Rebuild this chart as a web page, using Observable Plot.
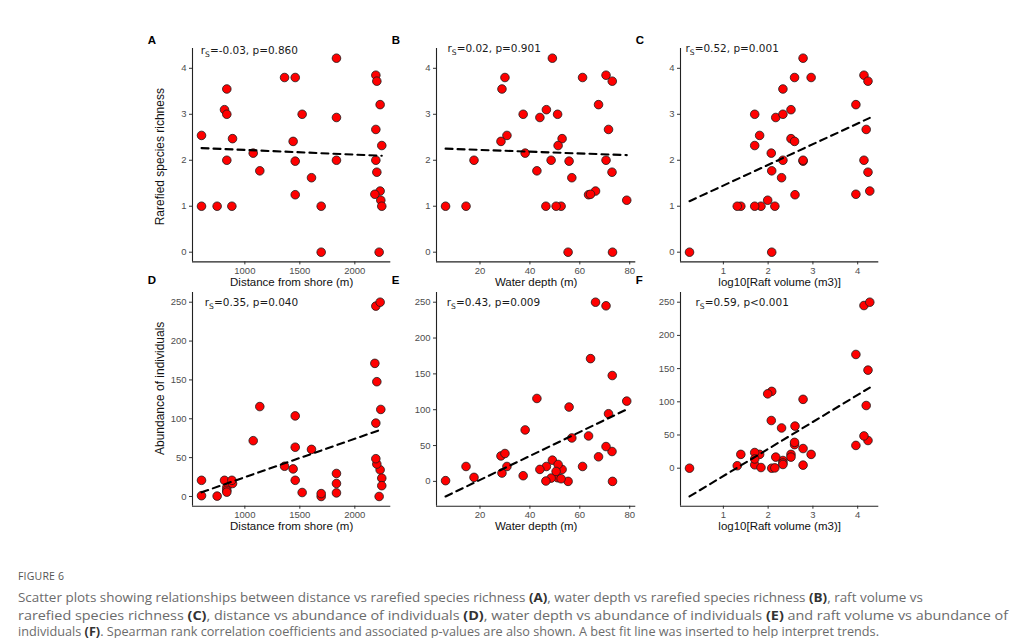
<!DOCTYPE html>
<html>
<head>
<meta charset="utf-8">
<script src="https://cdn.jsdelivr.net/npm/d3@7"></script>
<script src="https://cdn.jsdelivr.net/npm/@observablehq/plot@0.6"></script>
<style>
  html, body { margin: 0; padding: 0; background: #fff; }
  #fig { position: relative; width: 1023px; height: 638px; overflow: hidden; font-family: "Liberation Sans", Arial, sans-serif; }
  #fig svg { position: absolute; overflow: visible; }
  .cap { position: absolute; left: 18px; white-space: nowrap; color: #6b6b6b; font-family: "Open Sans", "Noto Sans", sans-serif; transform-origin: 0 50%; }
  .cap b { color: #333; font-weight: 700; }
  #figno { font-size: 10.5px; color: #555; letter-spacing: 0.2px; }
  .line { font-size: 13px; line-height: 14px; }
</style>
</head>
<body>
<div id="fig"></div>
<script>
// One row per raft sample
const distance  = [606, 836, 815, 888, 1076, 1136, 1439, 1458, 1606, 1833, 1833, 2191, 2200, 2230, 2191, 2245, 2200, 2230, 2236, 1458, 2182, 1361, 1458, 836, 1521, 836, 1833, 2191, 1694, 2221, 606, 748, 882, 1694, 2245];
const depth     = [30.8, 28.8, 46.6, 52.9, 38.1, 42.8, 28.4, 55.7, 56.8, 49.0, 44.0, 70.5, 73.0, 67.5, 71.5, 51.3, 72.9, 66.3, 78.8, 63.5, 64.3, 30.0, 61.1, 37.3, 51.1, 17.6, 48.5, 70.5, 55.3, 73.1, 6.2, 46.4, 14.4, 52.5, 50.5];
const logVolume = [1.81, 2.33, 2.51, 2.51, 2.07, 2.08, 2.59, 2.78, 2.30, 2.78, 2.17, 4.14, 4.23, 3.96, 4.19, 1.70, 4.23, 4.27, 1.99, 2.60, 3.96, 2.59, 2.96, 2.33, 1.70, 2.33, 2.78, 4.14, 0.244, 2.08, 1.84, 2.15, 1.39, 1.31, 1.70];
const richness  = [2.54, 3.55, 3.10, 2.47, 2.155, 1.77, 2.41, 1.98, 1.62, 4.22, 2.93, 3.85, 3.72, 3.21, 2.67, 2.32, 1.74, 1.33, 1.13, 1.25, 1.26, 3.80, 3.80, 3.0, 3.0, 2.0, 2.0, 2.0, 0, 0, 1, 1, 1, 1, 1];
const abundance = [20.8, 11.6, 20.8, 16.7, 71.8, 115.7, 35.5, 103.7, 60.6, 29.6, 16.7, 245, 147.7, 34.3, 94.4, 23.6, 41.7, 250, 112, 63.4, 171.3, 38.9, 20.8, 7.9, 5.1, 5.6, 4.6, 48.6, 0, 0, 1, 0.5, 20.8, 3.7, 13.9];

// Spearman statistics shown in each panel
const panelLetters = ["A", "B", "C", "D", "E", "F"];
const rsValues = ["-0.03", "0.02", "0.52", "0.35", "0.43", "0.59"];
const pValues = ["p=0.860", "p=0.901", "p=0.001", "p=0.040", "p=0.009", "p<0.001"];

// Axis ticks and titles
const xTickSets = [[1000, 1500, 2000], [20, 40, 60, 80], [1, 2, 3, 4]];
const richnessTicks = [0, 1, 2, 3, 4];
const abundanceTicks = [0, 50, 100, 150, 200, 250];
const xTitles = ["Distance from shore (m)", "Water depth (m)", "log10[Raft volume (m3)]"];
const yTitles = ["Rarefied species richness", "Abundance of individuals"];

// Layout of the 3 x 2 grid (frame positions in page pixels)
const colLeft = [191.7, 435.7, 680];
const colWidth = [198.3, 199.3, 198.3];
const rowTop = [48.3, 291.7];
const rowHeight = [213.4, 213.7];
const ML = 60, MR = 12, MT = 24, MB = 42;
const notePos = [[8.3, 5.7], [11, 3.8], [5, 3.8], [12.3, 13.3], [10.3, 13.6], [15, 13.8]];
const letterDy = [-4.3, -8.4];

const xSeries = [distance, depth, logVolume];
const ySeries = [richness, abundance];

function ols(xs, ys) {
  const mx = d3.mean(xs), my = d3.mean(ys);
  const b = d3.sum(xs, (x, i) => (x - mx) * (ys[i] - my)) / d3.sum(xs, x => (x - mx) ** 2);
  const a = my - b * mx;
  return x => a + b * x;
}

// ggplot-style 5% expansion on both ends
function expand([lo, hi]) {
  const e = (hi - lo) * 0.05;
  return [lo - e, hi + e];
}

const plain = d => String(d);
const fig = document.getElementById("fig");

for (let row = 0; row < 2; ++row) {
  for (let col = 0; col < 3; ++col) {
    const k = row * 3 + col;
    const xs = xSeries[col], ys = ySeries[row];
    const data = xs.map((x, i) => ({x, y: ys[i]}));
    const fit = ols(xs, ys);
    const xExt = d3.extent(xs);
    const xDomain = expand(xExt);
    const yDomain = expand(d3.extent([...ys, fit(xExt[0]), fit(xExt[1])]));
    const fw = colWidth[col], fh = rowHeight[row];

    const marks = [
      Plot.axisY({ticks: row === 0 ? richnessTicks : abundanceTicks, tickFormat: plain, tickSize: 3, tickPadding: 3,
        label: null, fontSize: 9.5, fill: "#4d4d4d", stroke: "#333"}),
      Plot.axisX({ticks: xTickSets[col], tickFormat: plain, tickSize: 3, tickPadding: 2,
        label: null, fontSize: 9.5, fill: "#4d4d4d", stroke: "#333"}),
      Plot.ruleX([xDomain[0]], {stroke: "#222", strokeWidth: 1.1}),
      Plot.ruleY([yDomain[0]], {stroke: "#222", strokeWidth: 1.1}),
      Plot.dot(data, {x: "x", y: "y", r: 4.3, fill: "#ff0000", stroke: "#1a1a1a", strokeWidth: 0.8}),
      Plot.linearRegressionY(data, {x: "x", y: "y", ci: 0, stroke: "#000", strokeWidth: 2.1, strokeDasharray: "7,5"}),
      Plot.text([`rS=${rsValues[k]}, ${pValues[k]}`], {frameAnchor: "top-left", textAnchor: "start", lineAnchor: "bottom",
        dx: notePos[k][0], dy: notePos[k][1], fontSize: 10.5, fill: "#1a1a1a", fontFamily: "DejaVu Sans"}),
      Plot.text([panelLetters[k]], {frameAnchor: "top-left", textAnchor: "start", lineAnchor: "bottom",
        dx: -44.8, dy: letterDy[row], fontSize: 11.5, fontWeight: "bold", fill: "#000"}),
      Plot.text([xTitles[col]], {frameAnchor: "bottom", textAnchor: "middle", lineAnchor: "bottom", dy: 24, fontSize: 11.5, fill: "#111"})
    ];
    if (col === 0) {
      marks.push(Plot.text([yTitles[row]], {frameAnchor: "left", textAnchor: "middle", rotate: -90, dx: -32,
        dy: row === 0 ? 1.5 : -11, fontSize: 12, fill: "#111"}));
    }

    const svg = Plot.plot({
      width: ML + fw + MR,
      height: MT + fh + MB,
      marginLeft: ML, marginRight: MR, marginTop: MT, marginBottom: MB,
      x: {domain: xDomain},
      y: {domain: yDomain},
      style: {fontFamily: "'Liberation Sans', Arial, sans-serif", background: "transparent", overflow: "visible"},
      marks
    });
    svg.style.left = `${colLeft[col] - ML}px`;
    svg.style.top = `${rowTop[row] - MT}px`;
    svg.style.maxWidth = "none";

    // Spearman r with its subscript S
    for (const t of svg.querySelectorAll("text")) {
      const s = t.textContent;
      if (!s.startsWith("rS=")) continue;
      t.textContent = "";
      const part = (txt, attrs = {}) => {
        const ts = document.createElementNS("http://www.w3.org/2000/svg", "tspan");
        ts.textContent = txt;
        for (const [a, v] of Object.entries(attrs)) ts.setAttribute(a, v);
        t.appendChild(ts);
      };
      part("r");
      part("S", {dy: "3", "font-size": "7.6"});
      part(s.slice(2), {dy: "-3"});
    }
    fig.appendChild(svg);
  }
}

// Figure caption
const captionLines = [
  ["Scatter plots showing relationships between distance vs rarefied species richness ", "(A)", ", water depth vs rarefied species richness ", "(B)", ", raft volume vs"],
  ["rarefied species richness ", "(C)", ", distance vs abundance of individuals ", "(D)", ", water depth vs abundance of individuals ", "(E)", " and raft volume vs abundance of"],
  ["individuals ", "(F)", ". Spearman rank correlation coefficients and associated p-values are also shown. A best fit line was inserted to help interpret trends."]
];
const captionRight = [923, 1008, 879];
const captionTop = [590, 607.5, 623.5];

const figno = document.createElement("div");
figno.className = "cap";
figno.id = "figno";
figno.style.top = "569px";
figno.textContent = "FIGURE 6";
fig.appendChild(figno);

captionLines.forEach((parts, i) => {
  const div = document.createElement("div");
  div.className = "cap line";
  div.style.top = `${captionTop[i]}px`;
  parts.forEach((p, j) => {
    if (j % 2 === 1) { const b = document.createElement("b"); b.textContent = p; div.appendChild(b); }
    else div.appendChild(document.createTextNode(p));
  });
  fig.appendChild(div);
  const w = div.getBoundingClientRect().width;
  div.style.transform = `scaleX(${(captionRight[i] - 18) / w})`;
});
</script>
</body>
</html>
